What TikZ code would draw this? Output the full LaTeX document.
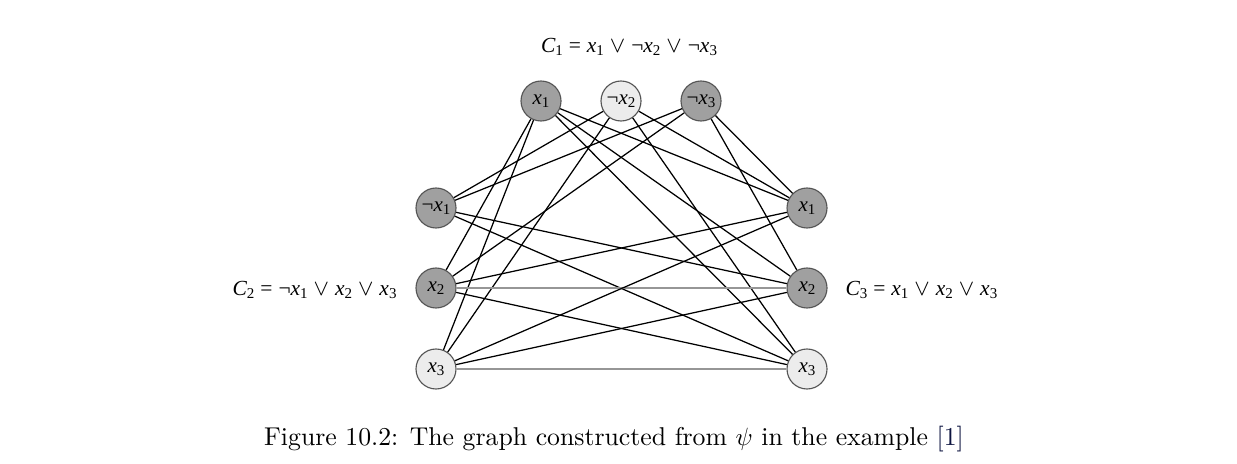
\documentclass[tikz,border=0pt]{standalone}
\usepackage{fontspec}
\newfontfamily\tms{Liberation Serif}
\definecolor{bord}{RGB}{85,85,85}
\definecolor{dkfill}{RGB}{160,160,160}
\definecolor{ltfill}{RGB}{236,236,236}
\definecolor{hgray}{RGB}{150,150,150}
\definecolor{citeblue}{rgb}{0.05,0.08,0.25}
\newcommand{\vv}[2]{{\tms\itshape #1}\raisebox{-0.35ex}{\tms\fontsize{6}{6}\selectfont #2}}
\newcommand{\nt}{{\tms\char"00AC}}
\newcommand{\orr}{\;$\vee$\;}
\newcommand{\eqq}{\;{\tms =}\;}
\begin{document}
\begin{tikzpicture}[x=0.4pt,y=-0.4pt,
  vert/.style={circle,draw=bord,line width=0.45pt,minimum size=16pt,inner sep=0pt,font=\tms\fontsize{8.4}{9}\selectfont},
  dk/.style={vert,fill=dkfill},
  lt/.style={vert,fill=ltfill},
  edge/.style={line width=0.5pt,black},
  hedge/.style={line width=0.6pt,hgray},
  lab/.style={font=\tms\fontsize{8.6}{9}\selectfont,inner sep=0pt}]
\useasboundingbox (0,0) rectangle (1237,464);
% C1
\node[dk] (a1) at (541,101) {\vv{x}{1}};
\node[lt] (a2) at (621,101) {\nt\vv{x}{2}};
\node[dk] (a3) at (701,101) {\nt\vv{x}{3}};
% C2
\node[dk] (b1) at (436,208) {\nt\vv{x}{1}};
\node[dk] (b2) at (436,288) {\vv{x}{2}};
\node[lt] (b3) at (436,369) {\vv{x}{3}};
% C3
\node[dk] (c1) at (807,208) {\vv{x}{1}};
\node[dk] (c2) at (807,288) {\vv{x}{2}};
\node[lt] (c3) at (807,369) {\vv{x}{3}};
% labels
\node[lab] (l1) at (629,47) {\vv{C}{1}\eqq\vv{x}{1}\orr\nt\vv{x}{2}\orr\nt\vv{x}{3}};
\node[lab,anchor=east] (l2) at (397,290) {\vv{C}{2}\eqq\nt\vv{x}{1}\orr\vv{x}{2}\orr\vv{x}{3}};
\node[lab,anchor=west] (l3) at (845,290) {\vv{C}{3}\eqq\vv{x}{1}\orr\vv{x}{2}\orr\vv{x}{3}};
\node[inner sep=0pt,font=\fontsize{10.3}{12}\selectfont] (cap) at (614,439) {Figure 10.2: The graph constructed from $\psi$ in the example \textcolor{citeblue}{[1]}};
% edges C1-C2
\draw[edge] (a1) -- (b2);
\draw[edge] (a1) -- (b3);
\draw[edge] (a2) -- (b1);
\draw[edge] (a2) -- (b3);
\draw[edge] (a3) -- (b1);
\draw[edge] (a3) -- (b2);
% C1-C3
\draw[edge] (a1) -- (c1);
\draw[edge] (a1) -- (c2);
\draw[edge] (a1) -- (c3);
\draw[edge] (a2) -- (c1);
\draw[edge] (a2) -- (c3);
\draw[edge] (a3) -- (c1);
\draw[edge] (a3) -- (c2);
% C2-C3
\draw[edge] (b1) -- (c2);
\draw[edge] (b1) -- (c3);
\draw[edge] (b2) -- (c1);
\draw[hedge] (b2) -- (c2);
\draw[edge] (b2) -- (c3);
\draw[edge] (b3) -- (c1);
\draw[edge] (b3) -- (c2);
\draw[hedge] (b3) -- (c3);
\end{tikzpicture}
\end{document}
